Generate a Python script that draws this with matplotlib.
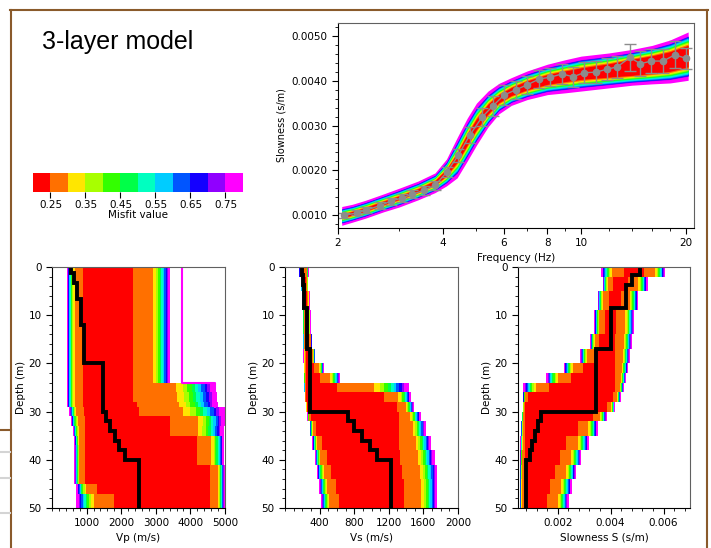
import numpy as np
import matplotlib
matplotlib.use("Agg")
import matplotlib.pyplot as plt
from matplotlib.lines import Line2D
from matplotlib.ticker import MultipleLocator, FixedLocator, NullFormatter, FormatStrFormatter

# misfit colour scale (best -> worst)
misfit_colors = ["#ff0000", "#ff7000", "#ffe600", "#a8ff00", "#33ff00", "#00ff48",
                 "#00ffc0", "#00ccff", "#0055ff", "#1400ff", "#9000ff", "#ff00ff"]
misfit_left = [0.20, 0.25, 0.30, 0.35, 0.40, 0.45, 0.50, 0.55, 0.60, 0.65, 0.70, 0.75]
misfit_ticks = [0.25, 0.35, 0.45, 0.55, 0.65, 0.75]

# where each misfit band ends, as share of the gap between red core and outer edge
band_frac_disp = [0.0, 0.10, 0.18, 0.26, 0.32, 0.38, 0.46, 0.54, 0.62, 0.66, 0.70, 1.0]
band_frac_prof = [0.0, 0.52, 0.60, 0.66, 0.71, 0.75, 0.79, 0.83, 0.87, 0.90, 0.93, 1.0]

# dispersion envelope
disp_freq = [2.05, 2.2, 2.4, 2.7, 3.0, 3.4, 3.8, 4.1, 4.4, 4.7, 5.0, 5.4, 5.8, 6.3,
             7.0, 8.0, 9.0, 10, 12, 14, 16, 18, 20.3]
disp_center = [0.00098, 0.00104, 0.00113, 0.00127, 0.00139, 0.00155, 0.00172, 0.00195,
               0.00228, 0.00268, 0.00303, 0.00337, 0.00360, 0.00376, 0.00390, 0.00403,
               0.00410, 0.00416, 0.00423, 0.00430, 0.00436, 0.00443, 0.00455]
disp_red_half = [0.00004, 0.00004, 0.00004, 0.00004, 0.00004, 0.00004, 0.00005, 0.00007,
                 0.00010, 0.00012, 0.00012, 0.00011, 0.00009, 0.00009, 0.00010, 0.00011,
                 0.00012, 0.00013, 0.00015, 0.00018, 0.00020, 0.00022, 0.00024]
disp_outer_half = [0.00021, 0.00020, 0.00020, 0.00020, 0.00021, 0.00021, 0.00022, 0.00030,
                   0.00045, 0.00048, 0.00047, 0.00040, 0.00034, 0.00031, 0.00032, 0.00034,
                   0.00037, 0.00039, 0.00039, 0.00040, 0.00043, 0.00048, 0.00054]

# measured dispersion points
obs_freq = [2.08, 2.27, 2.41, 2.64, 2.84, 3.05, 3.26, 3.53, 3.80, 4.11, 4.43, 4.78, 5.18,
            5.58, 6.00, 6.50, 7.00, 7.58, 8.16, 8.80, 9.49, 10.2, 11.0, 11.9, 12.7, 13.8,
            14.8, 15.9, 17.2, 18.6, 20.0]
obs_slow = [0.00099, 0.00105, 0.00111, 0.00121, 0.00131, 0.00138, 0.00146, 0.00155,
            0.00166, 0.00196, 0.00233, 0.00278, 0.00318, 0.00344, 0.00368, 0.00380,
            0.00391, 0.00404, 0.00408, 0.00415, 0.00409, 0.00418, 0.00419, 0.00426,
            0.00431, 0.00452, 0.00438, 0.00444, 0.00444, 0.00458, 0.00450]
obs_err = [0.00006, 0.00006, 0.00007, 0.00007, 0.00008, 0.00008, 0.00009, 0.00010,
           0.00010, 0.00012, 0.00015, 0.00018, 0.00020, 0.00022, 0.00022, 0.00020,
           0.00020, 0.00020, 0.00020, 0.00022, 0.00022, 0.00024, 0.00024, 0.00024,
           0.00025, 0.00030, 0.00028, 0.00026, 0.00026, 0.00030, 0.00024]

# Vp envelopes (m/s), value holds from depth node to the next one
vp_depth = [0, 24, 26, 28, 29, 31, 33, 35, 37, 41, 45, 47, 50]
vp_outer_left = [420, 420, 420, 420, 500, 550, 600, 640, 650, 650, 700, 700, 700]
vp_red_left = [900, 900, 900, 900, 920, 950, 950, 950, 950, 950, 1300, 1800, 1800]
vp_red_right = [2350, 2350, 2350, 2450, 2500, 3400, 3400, 4200, 4200, 4570, 4570, 4570, 4570]
vp_outer_right = [3420, 4720, 4780, 4800, 5000, 5000, 4980, 4980, 4980, 4990, 4990, 4990, 4990]
vp_best_depth = [0, 1.3, 3.4, 6.7, 12, 20, 30, 32, 34, 36, 38, 40, 50]
vp_best = [550, 640, 730, 830, 930, 1470, 1560, 1680, 1820, 1950, 2110, 2500, 2500]
vp_single_depth = [0, 24, 29]
vp_single = [3750, 4700, 4700]

# Vs envelopes (m/s)
vs_depth = [0, 2, 5, 9, 14, 17, 20, 22, 24, 26, 28, 30, 32, 35, 38, 41, 44, 47, 50]
vs_outer_left = [165, 185, 198, 205, 208, 212, 215, 218, 222, 228, 240, 260, 285, 315,
                 345, 370, 395, 415, 425]
vs_red_left = [190, 215, 228, 238, 240, 240, 240, 240, 240, 245, 260, 300, 360, 430,
               480, 530, 590, 620, 630]
vs_red_right = [222, 245, 255, 265, 280, 295, 340, 400, 600, 1150, 1300, 1320, 1320,
                1320, 1330, 1350, 1380, 1380, 1380]
vs_outer_right = [275, 270, 285, 295, 310, 350, 450, 640, 1430, 1460, 1490, 1570, 1630,
                  1690, 1730, 1760, 1760, 1760, 1760]
vs_best_depth = [0, 1.7, 3.7, 8.6, 17, 30, 32, 34, 36, 38, 40, 50]
vs_best = [196, 208, 219, 250, 290, 725, 800, 890, 985, 1060, 1220, 1220]

FONT = 7.5
W, H = 711, 548


def box(l, t, r, b):
    return [l / W, 1 - b / H, (r - l) / W, (b - t) / H]


def step_line(d, v):
    xs, ys = [], []
    for i in range(len(d) - 1):
        xs += [v[i], v[i]]
        ys += [d[i], d[i + 1]]
    return xs, ys


def style_axes(ax):
    for s in ["left", "bottom"]:
        ax.spines[s].set_color("black")
    for s in ["top", "right"]:
        ax.spines[s].set_color("#606060")
    ax.tick_params(which="major", length=4, labelsize=FONT, direction="out")
    ax.tick_params(which="minor", length=2.5, direction="out")


def draw_profile(ax, depth, ol, rl, rr, orr):
    depth = np.array(depth)
    ol, rl, rr, orr = map(np.array, (ol, rl, rr, orr))
    for k in range(len(misfit_colors) - 1, -1, -1):
        f = band_frac_prof[k]
        left = rl + f * (ol - rl)
        right = rr + f * (orr - rr)
        ax.fill_betweenx(depth, left, right, step="post", color=misfit_colors[k], lw=0)


def depth_axis(ax):
    ax.set_ylim(50, 0)
    ax.yaxis.set_major_locator(FixedLocator([0, 10, 20, 30, 40, 50]))
    ax.yaxis.set_minor_locator(MultipleLocator(2))
    ax.set_ylabel("Depth (m)", fontsize=FONT, labelpad=2)


fig = plt.figure(figsize=(W / 100, H / 100), dpi=100)
fig.patch.set_facecolor("white")

# frame of the slide
brown = "#8a5a2b"
fig.add_artist(Line2D([10 / W, 708 / W], [1 - 10 / H, 1 - 10 / H], color=brown, lw=1.5))
fig.add_artist(Line2D([11 / W, 11 / W], [1 - 10 / H, 0], color=brown, lw=1.5))
fig.add_artist(Line2D([707 / W, 707 / W], [1 - 10 / H, 0], color=brown, lw=1.5))
fig.add_artist(Line2D([0, 11 / W], [1 - 430 / H, 1 - 430 / H], color=brown, lw=1.5))
for yy in [452, 478, 513]:
    fig.add_artist(Line2D([0, 10 / W], [1 - yy / H, 1 - yy / H], color="#d4d4d4", lw=1.5))

fig.text(42 / W, 1 - 42 / H, "3-layer model", fontsize=18, family="Liberation Sans",
         va="center", ha="left")

# colour scale
cax = fig.add_axes(box(33, 173, 243, 192))
cax.bar(misfit_left, 1, width=0.05, align="edge", color=misfit_colors, lw=0)
cax.set_xlim(0.2, 0.8)
cax.set_ylim(0, 1)
cax.set_yticks([])
for s in cax.spines.values():
    s.set_visible(False)
cax.set_xticks(misfit_ticks)
cax.set_xticklabels([f"{t:.2f}" for t in misfit_ticks])
cax.tick_params(axis="x", length=4, labelsize=FONT, pad=2)
cax.set_xlabel("Misfit value", fontsize=FONT, labelpad=0)

# dispersion curves
ax = fig.add_axes(box(338, 23, 694, 228))
fq = np.array(disp_freq)
c = np.array(disp_center)
rh = np.array(disp_red_half)
oh = np.array(disp_outer_half)
for k in range(len(misfit_colors) - 1, -1, -1):
    h = rh + band_frac_disp[k] * (oh - rh)
    ax.fill_between(fq, c - h, c + h, color=misfit_colors[k], lw=0)
ax.errorbar(obs_freq, obs_slow, yerr=obs_err, fmt="-o", color="#8c8c8c", ms=4.5,
            lw=1.0, elinewidth=1.0, capsize=4, capthick=1.0)
ax.set_xscale("log")
ax.set_xlim(2, 21.1)
ax.set_ylim(0.00071, 0.00529)
ax.xaxis.set_major_locator(FixedLocator([2, 4, 6, 8, 10, 20]))
ax.xaxis.set_major_formatter(FormatStrFormatter("%g"))
ax.xaxis.set_minor_locator(FixedLocator([3, 5, 7, 9, 12, 14, 16, 18]))
ax.xaxis.set_minor_formatter(NullFormatter())
ax.yaxis.set_major_locator(MultipleLocator(0.001))
ax.yaxis.set_minor_locator(MultipleLocator(0.0002))
ax.yaxis.set_major_formatter(FormatStrFormatter("%.4f"))
style_axes(ax)
ax.set_xlabel("Frequency (Hz)", fontsize=FONT, labelpad=3)
ax.set_ylabel("Slowness (s/m)", fontsize=7, labelpad=4)

# Vp
ax1 = fig.add_axes(box(52, 267, 225, 508))
draw_profile(ax1, vp_depth, vp_outer_left, vp_red_left, vp_red_right, vp_outer_right)
xs, ys = step_line(vp_single_depth, vp_single)
ax1.plot(xs, ys, color="#ff00ff", lw=1.5)
xs, ys = step_line(vp_best_depth, vp_best)
ax1.plot(xs, ys, color="black", lw=2.8, solid_joinstyle="miter")
ax1.set_xlim(0, 5000)
ax1.xaxis.set_major_locator(FixedLocator([1000, 2000, 3000, 4000, 5000]))
ax1.xaxis.set_minor_locator(MultipleLocator(200))
depth_axis(ax1)
style_axes(ax1)
ax1.set_xlabel("Vp (m/s)", fontsize=FONT, labelpad=3)

# Vs
ax2 = fig.add_axes(box(285, 267, 458, 508))
draw_profile(ax2, vs_depth, vs_outer_left, vs_red_left, vs_red_right, vs_outer_right)
xs, ys = step_line(vs_best_depth, vs_best)
ax2.plot(xs, ys, color="black", lw=2.8, solid_joinstyle="miter")
ax2.set_xlim(0, 2000)
ax2.xaxis.set_major_locator(FixedLocator([400, 800, 1200, 1600, 2000]))
ax2.xaxis.set_minor_locator(MultipleLocator(100))
depth_axis(ax2)
style_axes(ax2)
ax2.set_xlabel("Vs (m/s)", fontsize=FONT, labelpad=3)

# slowness S, same models as Vs
ax3 = fig.add_axes(box(518, 267, 690, 508))
inv = lambda a: 1.0 / np.array(a, dtype=float)
draw_profile(ax3, vs_depth, inv(vs_outer_right), inv(vs_red_right),
             inv(vs_red_left), inv(vs_outer_left))
xs, ys = step_line(vs_best_depth, list(inv(vs_best)))
ax3.plot(xs, ys, color="black", lw=2.8, solid_joinstyle="miter")
ax3.set_xlim(0.0005, 0.007)
ax3.xaxis.set_major_locator(FixedLocator([0.002, 0.004, 0.006]))
ax3.xaxis.set_major_formatter(FormatStrFormatter("%.3f"))
ax3.xaxis.set_minor_locator(MultipleLocator(0.0004))
depth_axis(ax3)
style_axes(ax3)
ax3.set_xlabel("Slowness S (s/m)", fontsize=FONT, labelpad=3)

fig.savefig("out.png", dpi=100)
